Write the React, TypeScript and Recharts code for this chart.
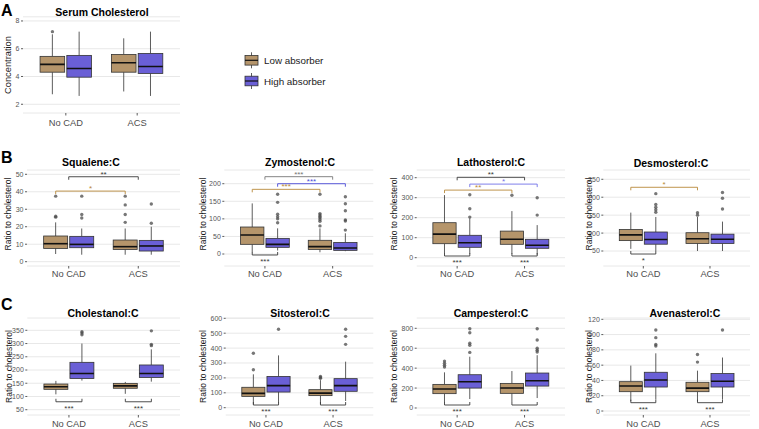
import React from 'react';
import { ComposedChart, Bar, Scatter, XAxis, YAxis, CartesianGrid, ReferenceLine } from 'recharts';

const groups = ['No CAD', 'ACS'];

// Box stats per group (No CAD, ACS): [lower whisker, Q1, median, Q3, upper whisker]
const serumLow = [[2.72, 4.31, 4.87, 5.45, 7.04], [2.92, 4.31, 4.99, 5.59, 6.75]];
const serumHigh = [[2.6, 3.95, 4.58, 5.52, 7.23], [2.6, 4.22, 4.72, 5.66, 7.23]];
const serumLowOut = [[7.23], []];
const serumHighOut = [[], []];

const squaleneLow = [[4.4, 7.6, 10.3, 14.7, 22.5], [4, 7, 8.6, 12.4, 19]];
const squaleneHigh = [[4, 8, 9.9, 14.5, 19], [4, 6.1, 9, 12.2, 20]];
const squaleneLowOut = [[37.5, 26, 25.5], [37.5, 32.5, 27, 22.5]];
const squaleneHighOut = [[37.5, 27, 25], [33, 22]];

const zymostenolLow = [[5, 27.5, 54, 76.8, 144], [5, 13, 21, 39, 73]];
const zymostenolHigh = [[10, 19, 27.5, 44.5, 73], [8, 10.4, 17, 33, 59]];
const zymostenolLowOut = [[], [170, 115, 111, 107, 103, 98, 93, 80]];
const zymostenolHighOut = [[170, 147, 113, 106, 100, 89], [163, 143, 123, 97, 94, 68]];

const lathosterolLow = [[22, 70, 118, 175, 313], [20, 67, 92, 133, 233]];
const lathosterolHigh = [[20, 52, 75, 112, 197], [15, 47, 62, 92, 163]];
const lathosterolLowOut = [[], [312]];
const lathosterolHighOut = [[315, 245, 203], [300, 213]];

const desmosterolLow = [[56, 79, 95, 110, 157], [50, 71, 84, 101, 145]];
const desmosterolHigh = [[50, 69, 82, 103, 145], [50, 71, 83, 97, 132]];
const desmosterolLowOut = [[], [157, 150]];
const desmosterolHighOut = [[210, 180, 172, 165, 158], [213, 197, 167]];

const cholestanolLow = [[108, 127, 137, 147, 159], [110, 131, 140, 149.5, 155]];
const cholestanolHigh = [[160, 168, 187, 229, 300], [156, 172, 187, 219, 278]];
const cholestanolLowOut = [[], []];
const cholestanolHighOut = [[345, 340, 333], [348, 297, 292]];

const sitosterolLow = [[22, 76, 96, 137, 224], [25, 81, 98, 121, 185]];
const sitosterolHigh = [[35, 105, 148, 210, 351], [45, 110, 148, 195, 309]];
const sitosterolLowOut = [[365, 255], [210, 203, 197]];
const sitosterolHighOut = [[526], [526, 479, 425]];

const campesterolLow = [[57, 144, 190, 237, 358], [60, 147, 200, 247, 371]];
const campesterolHigh = [[90, 200, 264, 334, 515], [100, 220, 274, 351, 530]];
const campesterolLowOut = [[471, 450, 430, 411], []];
const campesterolHighOut = [[796, 756, 650, 630, 558], [796, 682, 600, 580, 562]];

const avenasterolLow = [[13, 25.3, 32.8, 38.4, 59.4], [13, 25.3, 30, 37.6, 52.8]];
const avenasterolHigh = [[15, 31.4, 40.6, 50.7, 75.5], [15, 31.4, 38.9, 49, 70]];
const avenasterolLowOut = [[], [74, 64]];
const avenasterolHighOut = [[106, 96, 87, 85], [106]];

const LOW_COLOR = '#B5956B';
const HIGH_COLOR = '#6A5FD6';
const DARK = '#3a3a3a';
const GOLD = '#B8893A';
const BLUE = '#4a4ad8';
const FONT = '"Liberation Sans", Arial, Helvetica, sans-serif';

// dodge offset of the two absorber boxes around each group position
const DODGE = 0.1875;
type Side = 'low' | 'high' | 'mid';
const xPos = (g: number, s: Side) => g + 1 + (s === 'low' ? -DODGE : s === 'high' ? DODGE : 0);

type Bracket = { a: [number, Side]; b: [number, Side]; y: number; label: string; color: string; below?: boolean };

// significance brackets
const squaleneSig: Bracket[] = [
  { a: [0, 'mid'], b: [1, 'mid'], y: 48.6, label: '**', color: DARK },
  { a: [0, 'low'], b: [1, 'low'], y: 40.4, label: '*', color: GOLD },
];
const zymostenolSig: Bracket[] = [
  { a: [0, 'mid'], b: [1, 'mid'], y: 220, label: '***', color: '#777' },
  { a: [0, 'high'], b: [1, 'high'], y: 200, label: '***', color: BLUE },
  { a: [0, 'low'], b: [1, 'low'], y: 184, label: '***', color: GOLD },
  { a: [0, 'low'], b: [0, 'high'], y: -2.8, label: '***', color: DARK, below: true },
];
const lathosterolSig: Bracket[] = [
  { a: [0, 'mid'], b: [1, 'mid'], y: 402, label: '**', color: DARK },
  { a: [0, 'high'], b: [1, 'high'], y: 368, label: '*', color: '#7272e8' },
  { a: [0, 'low'], b: [1, 'low'], y: 338, label: '**', color: GOLD },
  { a: [0, 'low'], b: [0, 'high'], y: 8.5, label: '***', color: DARK, below: true },
  { a: [1, 'low'], b: [1, 'high'], y: 8.5, label: '***', color: DARK, below: true },
];
const desmosterolSig: Bracket[] = [
  { a: [0, 'low'], b: [1, 'low'], y: 227.7, label: '*', color: GOLD },
  { a: [0, 'low'], b: [0, 'high'], y: 41.6, label: '*', color: DARK, below: true },
];
const withinBoth = (y: number): Bracket[] => [
  { a: [0, 'low'], b: [0, 'high'], y, label: '***', color: DARK, below: true },
  { a: [1, 'low'], b: [1, 'high'], y, label: '***', color: DARK, below: true },
];

type PanelCfg = {
  title: string; titleX: number; titleY: number;
  left: number; top: number; width: number; height: number;
  plot: [number, number, number, number]; // left, right, top, bottom
  domain: [number, number]; ticks: number[];
  low: number[][]; high: number[][]; lowOut: number[][]; highOut: number[][];
  sig: Bracket[]; xFont: number; tickMargin: number;
};

const panels: PanelCfg[] = [
  { title: 'Serum Cholesterol', titleX: 102, titleY: 15.7, left: 0, top: 0, width: 190, height: 135, plot: [23, 180, 16.8, 113], domain: [1.37, 8.3], ticks: [2, 4, 6, 8], low: serumLow, high: serumHigh, lowOut: serumLowOut, highOut: serumHighOut, sig: [], xFont: 9.3, tickMargin: 3.5 },
  { title: 'Squalene:C', titleX: 91, titleY: 166, left: 0, top: 150, width: 190, height: 130, plot: [27, 180, 170, 266], domain: [-2.46, 52.46], ticks: [0, 10, 20, 30, 40, 50], low: squaleneLow, high: squaleneHigh, lowOut: squaleneLowOut, highOut: squaleneHighOut, sig: squaleneSig, xFont: 9.3, tickMargin: 2 },
  { title: 'Zymostenol:C', titleX: 300, titleY: 166, left: 195, top: 150, width: 185, height: 130, plot: [224.3, 373.3, 170, 266], domain: [-34.1, 239], ticks: [0, 50, 100, 150, 200], low: zymostenolLow, high: zymostenolHigh, lowOut: zymostenolLowOut, highOut: zymostenolHighOut, sig: zymostenolSig, xFont: 9.3, tickMargin: 2 },
  { title: 'Lathosterol:C', titleX: 491, titleY: 166, left: 385, top: 150, width: 185, height: 130, plot: [416.7, 565, 170, 266], domain: [-41.5, 438.5], ticks: [0, 100, 200, 300, 400], low: lathosterolLow, high: lathosterolHigh, lowOut: lathosterolLowOut, highOut: lathosterolHighOut, sig: lathosterolSig, xFont: 9.3, tickMargin: 2 },
  { title: 'Desmosterol:C', titleX: 671, titleY: 167, left: 575, top: 150, width: 184, height: 130, plot: [603.3, 750, 170, 266], domain: [8.2, 275.9], ticks: [50, 100, 150, 200, 250], low: desmosterolLow, high: desmosterolHigh, lowOut: desmosterolLowOut, highOut: desmosterolHighOut, sig: desmosterolSig, xFont: 9.3, tickMargin: 2 },
  { title: 'Cholestanol:C', titleX: 103, titleY: 316.5, left: 0, top: 300, width: 190, height: 129, plot: [27.3, 180, 318, 415], domain: [30, 396.5], ticks: [50, 100, 150, 200, 250, 300, 350], low: cholestanolLow, high: cholestanolHigh, lowOut: cholestanolLowOut, highOut: cholestanolHighOut, sig: withinBoth(80), xFont: 9.3, tickMargin: 3 },
  { title: 'Sitosterol:C', titleX: 300, titleY: 316.5, left: 195, top: 300, width: 185, height: 129, plot: [225.7, 373.3, 318, 415], domain: [-49, 602], ticks: [0, 100, 200, 300, 400, 500, 600], low: sitosterolLow, high: sitosterolHigh, lowOut: sitosterolLowOut, highOut: sitosterolHighOut, sig: withinBoth(18), xFont: 9.3, tickMargin: 3 },
  { title: 'Campesterol:C', titleX: 491, titleY: 316.5, left: 385, top: 300, width: 185, height: 129, plot: [416.7, 565, 318, 415], domain: [-70.3, 903.4], ticks: [0, 200, 400, 600, 800], low: campesterolLow, high: campesterolHigh, lowOut: campesterolLowOut, highOut: campesterolHighOut, sig: withinBoth(30), xFont: 9.3, tickMargin: 3 },
  { title: 'Avenasterol:C', titleX: 685, titleY: 316.5, left: 575, top: 300, width: 184, height: 129, plot: [603.3, 750, 318, 415], domain: [-5.2, 121.7], ticks: [0, 20, 40, 60, 80, 100, 120], low: avenasterolLow, high: avenasterolHigh, lowOut: avenasterolLowOut, highOut: avenasterolHighOut, sig: withinBoth(10.9), xFont: 9.3, tickMargin: 3 },
];

// Draws one box: whiskers, IQR box and median, scaled off the bar's own Q1..Q3 geometry
function BoxShape(props: any) {
  const { x, y, width, height, payload } = props;
  const [lo, q1, med, q3, hi] = payload.stats;
  const k = height / (q3 - q1);
  const cx = x + width / 2;
  const yOf = (v: number) => y + (q3 - v) * k;
  return (
    <g>
      <line x1={cx} x2={cx} y1={yOf(hi)} y2={y} stroke="#333" strokeWidth={0.8} />
      <line x1={cx} x2={cx} y1={y + height} y2={yOf(lo)} stroke="#333" strokeWidth={0.8} />
      <rect x={x} y={y} width={width} height={height} fill={payload.fill} stroke="#333" strokeWidth={0.8} />
      <line x1={x} x2={x + width} y1={yOf(med)} y2={yOf(med)} stroke="#111" strokeWidth={1.6} />
    </g>
  );
}

const OutlierDot = (p: any) => <circle cx={p.cx} cy={p.cy} r={1.7} fill="#4a4a4a" fillOpacity={0.75} />;

function BoxPanel({ cfg }: { cfg: PanelCfg }) {
  const [pl, pr, pt, pb] = cfg.plot;
  const rows: any[] = [];
  const points: any[] = [];
  groups.forEach((_, i) => {
    rows.push({ x: xPos(i, 'low'), box: [cfg.low[i][1], cfg.low[i][3]], stats: cfg.low[i], fill: LOW_COLOR });
    rows.push({ x: xPos(i, 'high'), box: [cfg.high[i][1], cfg.high[i][3]], stats: cfg.high[i], fill: HIGH_COLOR });
    cfg.lowOut[i].forEach((v) => points.push({ x: xPos(i, 'low'), y: v }));
    cfg.highOut[i].forEach((v) => points.push({ x: xPos(i, 'high'), y: v }));
  });
  const unitsPerPx = (cfg.domain[1] - cfg.domain[0]) / (pb - pt);
  const tip = 3 * unitsPerPx;
  const barSize = 0.345 * ((pr - pl) / 2.2);

  return (
    <div style={{ position: 'absolute', left: cfg.left, top: cfg.top, width: cfg.width, height: cfg.height }}>
      <ComposedChart
        width={cfg.width}
        height={cfg.height}
        data={rows}
        margin={{ top: pt - cfg.top, right: cfg.left + cfg.width - pr, bottom: 0, left: 0 }}
      >
        <CartesianGrid vertical={false} stroke="#e8e8e8" strokeWidth={1} />
        <XAxis
          dataKey="x"
          type="number"
          domain={[0.4, 2.6]}
          ticks={[1, 2]}
          interval={0}
          allowDataOverflow
          tickFormatter={(v: number) => groups[v - 1]}
          axisLine={false}
          tickLine={{ stroke: '#333', strokeWidth: 0.8 }}
          tickSize={2.5}
          tickMargin={cfg.tickMargin}
          height={cfg.top + cfg.height - pb}
          tick={{ fontSize: cfg.xFont, fill: '#4d4d4d', fontFamily: FONT }}
        />
        <YAxis
          type="number"
          domain={cfg.domain}
          ticks={cfg.ticks}
          interval={0}
          allowDataOverflow
          axisLine={false}
          width={pl - cfg.left}
          tickLine={{ stroke: '#333', strokeWidth: 0.8 }}
          tickSize={2}
          tickMargin={1.5}
          tick={{ fontSize: 7, fill: '#555', fontFamily: FONT }}
        />
        <Bar dataKey="box" barSize={barSize} shape={BoxShape} isAnimationActive={false} />
        <Scatter data={points} dataKey="y" shape={OutlierDot} isAnimationActive={false} />
        {cfg.sig.map((s, i) => {
          const xa = xPos(s.a[0], s.a[1]);
          const xb = xPos(s.b[0], s.b[1]);
          const yt = s.below ? s.y + tip : s.y - tip;
          return [
            <ReferenceLine
              key={`h${i}`}
              segment={[{ x: xa, y: s.y }, { x: xb, y: s.y }]}
              stroke={s.color}
              strokeWidth={0.9}
              ifOverflow="visible"
              label={{ value: s.label, position: s.below ? 'bottom' : 'top', offset: s.below ? 3.5 : 0, fill: s.color, fontSize: 8, fontFamily: FONT }}
            />,
            <ReferenceLine key={`a${i}`} segment={[{ x: xa, y: s.y }, { x: xa, y: yt }]} stroke={s.color} strokeWidth={0.9} ifOverflow="visible" />,
            <ReferenceLine key={`b${i}`} segment={[{ x: xb, y: s.y }, { x: xb, y: yt }]} stroke={s.color} strokeWidth={0.9} ifOverflow="visible" />,
          ];
        })}
      </ComposedChart>
    </div>
  );
}

// y-axis titles: [text, baseline x, centre y, font size]
const axisTitles: [string, number, number, number][] = [
  ['Concentration', 11.2, 65, 9.3],
  ['Ratio to cholesterol', 10.5, 214, 8.5],
  ['Ratio to cholesterol', 205.5, 214, 8.5],
  ['Ratio to cholesterol', 396.5, 214, 8.5],
  ['Ratio to cholesterol', 591.5, 214, 8.5],
  ['Ratio to cholesterol', 11.5, 366.5, 8.5],
  ['Ratio to cholesterol', 205.5, 366.5, 8.5],
  ['Ratio to cholesterol', 396.5, 366.5, 8.5],
  ['Ratio to cholesterol', 591.5, 366.5, 8.5],
];

const legendItems = [
  { label: 'Low absorber', color: LOW_COLOR, y: 60.3 },
  { label: 'High absorber', color: HIGH_COLOR, y: 81 },
];

export default function App() {
  return (
    <div style={{ position: 'absolute', left: 0, top: 0, width: 759, height: 429, background: '#fff', fontFamily: FONT }}>
      {panels.map((p) => (
        <BoxPanel key={p.title} cfg={p} />
      ))}
      <svg width={759} height={429} style={{ position: 'absolute', left: 0, top: 0, pointerEvents: 'none' }} fontFamily={FONT}>
        <text x={1} y={16} fontSize={16} fontWeight="bold" fill="#000">A</text>
        <text x={1} y={162.5} fontSize={16} fontWeight="bold" fill="#000">B</text>
        <text x={1} y={310} fontSize={16} fontWeight="bold" fill="#000">C</text>
        {panels.map((p) => (
          <text key={p.title} x={p.titleX} y={p.titleY} fontSize={10.5} fontWeight="bold" textAnchor="middle" fill="#000">
            {p.title}
          </text>
        ))}
        {axisTitles.map(([t, x, y, fs], i) => (
          <text key={i} transform={`translate(${x},${y}) rotate(-90)`} fontSize={fs} textAnchor="middle" fill="#1a1a1a">
            {t}
          </text>
        ))}
        {legendItems.map((it) => (
          <g key={it.label}>
            <line x1={251.5} x2={251.5} y1={it.y - 8} y2={it.y + 8} stroke="#333" strokeWidth={0.8} />
            <rect x={245} y={it.y - 4.8} width={13} height={9.6} fill={it.color} stroke="#333" strokeWidth={0.8} />
            <line x1={245} x2={258} y1={it.y} y2={it.y} stroke="#111" strokeWidth={1.2} />
            <text x={264} y={it.y + 3.5} fontSize={9.8} fill="#1a1a1a">
              {it.label}
            </text>
          </g>
        ))}
      </svg>
    </div>
  );
}
